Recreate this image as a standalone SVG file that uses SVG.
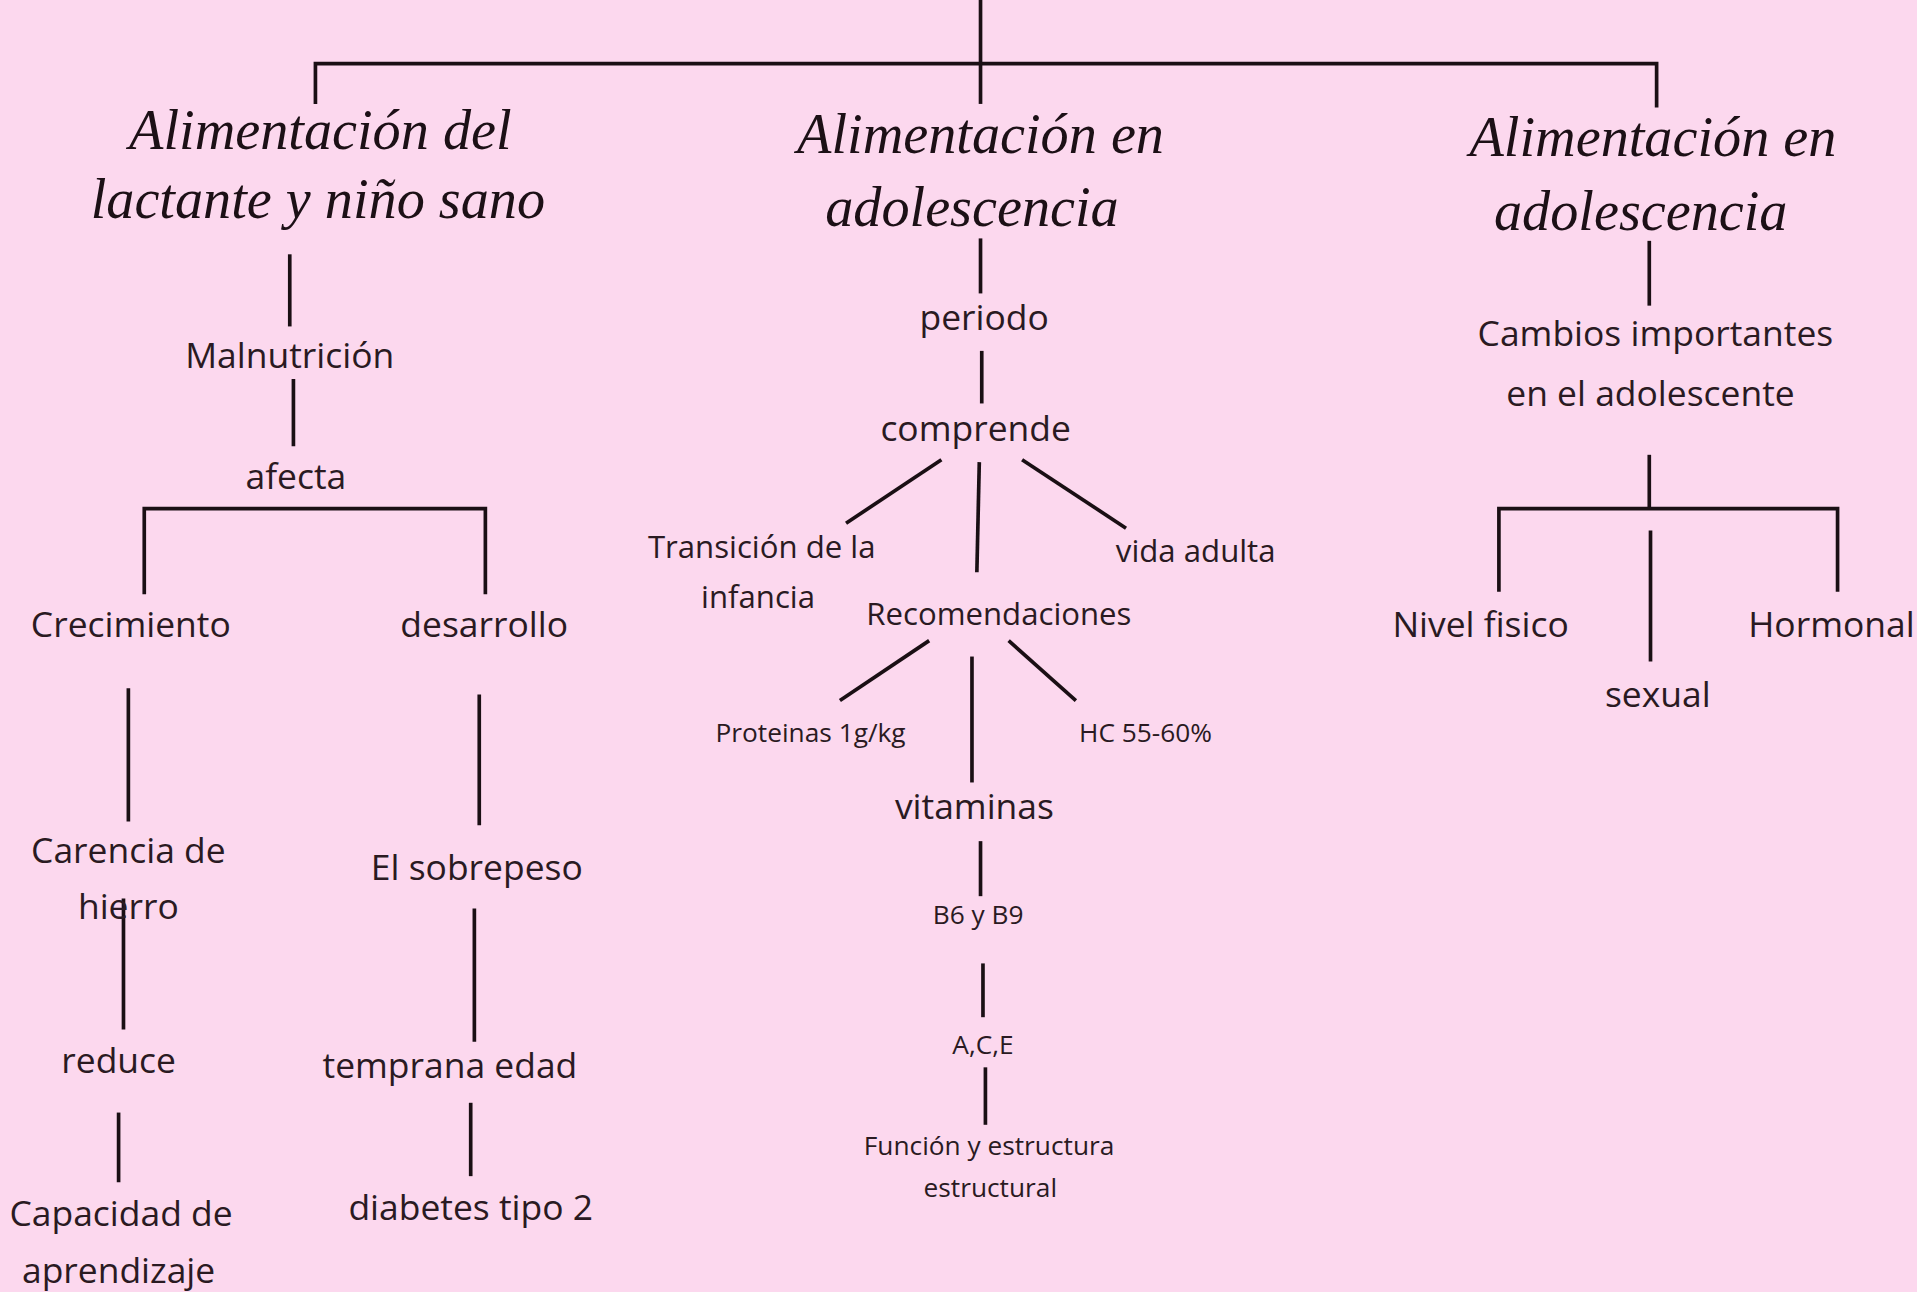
<svg xmlns="http://www.w3.org/2000/svg" width="1917" height="1292" viewBox="0 0 1917 1292">
<style>
.t{font-family:"Liberation Serif",serif;font-style:italic;font-size:46px;fill:#1c1016;text-anchor:middle}
.b{font-family:"Open Sans","Noto Sans",sans-serif;font-size:29px;fill:#2a1a22;text-anchor:middle}
.m{font-family:"Open Sans","Noto Sans",sans-serif;font-size:25.5px;fill:#2a1a22;text-anchor:middle}
.s{font-family:"Open Sans","Noto Sans",sans-serif;font-size:21.5px;fill:#2a1a22;text-anchor:middle}
.c line,.c path{stroke:#1a0f14;stroke-width:3;fill:none}
</style>
<rect width="1917" height="1292" fill="#fcd8ee"/>
<g transform="scale(1.2226)">
<g class="c" id="connectors">
<line x1="802" y1="0" x2="802" y2="85"/>
<path d="M258 85 V52 H1355 V88"/>
<line x1="237" y1="208" x2="237" y2="267"/>
<line x1="240" y1="310" x2="240" y2="365"/>
<path d="M118 486 V416 H397 V486"/>
<line x1="105" y1="563" x2="105" y2="672"/>
<line x1="392" y1="568" x2="392" y2="675"/>
<line x1="101" y1="735" x2="101" y2="842"/>
<line x1="388" y1="743" x2="388" y2="852"/>
<line x1="97" y1="910" x2="97" y2="967"/>
<line x1="385" y1="902" x2="385" y2="962"/>
<line x1="802" y1="195" x2="802" y2="240"/>
<line x1="803" y1="287" x2="803" y2="330"/>
<line x1="770" y1="376" x2="692" y2="428"/>
<line x1="801" y1="378" x2="799" y2="468"/>
<line x1="836" y1="376" x2="921" y2="432"/>
<line x1="760" y1="524" x2="687" y2="573"/>
<line x1="795" y1="537" x2="795" y2="640"/>
<line x1="825" y1="524" x2="880" y2="573"/>
<line x1="802" y1="688" x2="802" y2="733"/>
<line x1="804" y1="788" x2="804" y2="832"/>
<line x1="806" y1="873" x2="806" y2="920"/>
<line x1="1349" y1="197" x2="1349" y2="250"/>
<line x1="1349" y1="372" x2="1349" y2="416"/>
<path d="M1226 484 V416 H1503 V484"/>
<line x1="1350" y1="434" x2="1350" y2="541"/>
</g>
<g id="n-title1"><text class="t" x="262" y="122">Alimentación del</text><text class="t" x="260" y="178">lactante y niño sano</text></g>
<g id="n-title2"><text class="t" x="802" y="125">Alimentación en</text><text class="t" x="795" y="185">adolescencia</text></g>
<g id="n-title3"><text class="t" x="1352" y="128">Alimentación en</text><text class="t" x="1342" y="188">adolescencia</text></g>
<g id="n-malnutricion"><text class="b" x="237" y="301">Malnutrición</text></g>
<g id="n-afecta"><text class="b" x="242" y="400">afecta</text></g>
<g id="n-crecimiento"><text class="b" x="107" y="521">Crecimiento</text></g>
<g id="n-desarrollo"><text class="b" x="396" y="521">desarrollo</text></g>
<g id="n-carencia"><text class="b" x="105" y="706">Carencia de</text><text class="b" x="105" y="752">hierro</text></g>
<g id="n-sobrepeso"><text class="b" x="390" y="720">El sobrepeso</text></g>
<g id="n-reduce"><text class="b" x="97" y="878">reduce</text></g>
<g id="n-temprana"><text class="b" x="368" y="882">temprana edad</text></g>
<g id="n-capacidad"><text class="b" x="99" y="1003">Capacidad de</text><text class="b" x="97" y="1049">aprendizaje</text></g>
<g id="n-diabetes"><text class="b" x="385" y="998">diabetes tipo 2</text></g>
<g id="n-periodo"><text class="b" x="805" y="270">periodo</text></g>
<g id="n-comprende"><text class="b" x="798" y="361">comprende</text></g>
<g id="n-transicion"><text class="m" x="623" y="456">Transición de la</text><text class="m" x="620" y="497">infancia</text></g>
<g id="n-vida"><text class="m" x="978" y="460">vida adulta</text></g>
<g id="n-recomendaciones"><text class="m" x="817" y="511">Recomendaciones</text></g>
<g id="n-proteinas"><text class="s" x="663" y="607">Proteinas 1g/kg</text></g>
<g id="n-hc"><text class="s" x="937" y="607">HC 55-60%</text></g>
<g id="n-vitaminas"><text class="b" x="797" y="670">vitaminas</text></g>
<g id="n-b6"><text class="s" x="800" y="756">B6 y B9</text></g>
<g id="n-ace"><text class="s" x="804" y="862">A,C,E</text></g>
<g id="n-funcion"><text class="s" x="809" y="945">Función y estructura</text><text class="s" x="810" y="979">estructural</text></g>
<g id="n-cambios"><text class="b" x="1354" y="283">Cambios importantes</text><text class="b" x="1350" y="332">en el adolescente</text></g>
<g id="n-nivel"><text class="b" x="1211" y="521">Nivel fisico</text></g>
<g id="n-hormonal"><text class="b" x="1498" y="521">Hormonal</text></g>
<g id="n-sexual"><text class="b" x="1356" y="578">sexual</text></g>
</g>
</svg>
